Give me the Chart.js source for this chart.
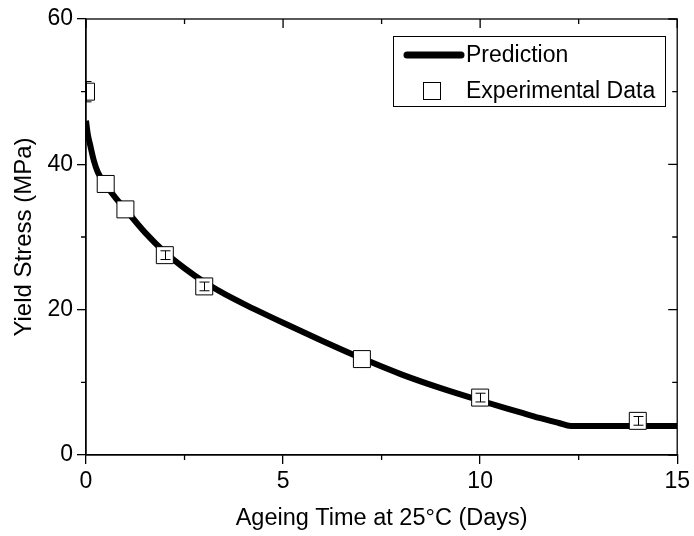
<!DOCTYPE html>
<html>
<head>
<meta charset="utf-8">
<title>Yield stress vs ageing time</title>
<script src="https://cdn.jsdelivr.net/npm/chart.js@4.4.1/dist/chart.umd.min.js"></script>
<style>
  html, body { margin: 0; padding: 0; background: #fff; }
  #wrap { width: 694px; height: 536px; position: relative; }
</style>
</head>
<body>
<div id="wrap"><canvas id="chart"></canvas></div>
<script>
// model curve
const predDays   = [0, 0.05, 0.1, 0.2, 0.3, 0.5, 0.75, 1, 1.5, 2, 2.5, 3, 3.5, 4, 5, 6, 7, 8, 9, 10, 11, 11.5, 12, 12.3, 13, 14, 15];
const predStress = [46, 44, 42.8, 40.5, 38.9, 37.2, 35.4, 33.8, 30.6, 27.9, 25.7, 23.8, 22.2, 20.8, 18.2, 15.7, 13.3, 11.1, 9.2, 7.5, 5.9, 5.1, 4.4, 4.0, 4.0, 4.0, 4.0];

// measured points + error
const expDays   = [0, 0.5, 1, 2, 3, 7, 10, 14];
const expStress = [50, 37.3, 33.8, 27.5, 23.2, 13.2, 7.9, 4.7];
const expError  = [1.4, 0, 0, 0.6, 0.6, 0, 0.6, 0.6];

const xTicks = [0, 5, 10, 15];
const yTicks = [0, 20, 40, 60];
const xMinor = [2.5, 7.5, 12.5];
const yMinor = [10, 30, 50];

const FONT = "'Liberation Sans', Arial, Helvetica, sans-serif";

const boxPlugin = {
  id: "box",
  afterDatasetsDraw(chart) {
    const { ctx, chartArea: a, scales: { x, y } } = chart;
    ctx.save();
    ctx.beginPath();
    ctx.rect(a.left, a.top, a.right - a.left, a.bottom - a.top);
    ctx.clip();
    ctx.strokeStyle = "#000";
    ctx.lineWidth = 1;
    expDays.forEach((d, i) => {
      const e = expError[i];
      if (!e) return;
      const px = Math.round(x.getPixelForValue(d)) + 0.5;
      const y1 = y.getPixelForValue(expStress[i] + e);
      const y2 = y.getPixelForValue(expStress[i] - e);
      ctx.beginPath();
      ctx.moveTo(px, y1); ctx.lineTo(px, y2);
      ctx.moveTo(px - 5, y1); ctx.lineTo(px + 5, y1);
      ctx.moveTo(px - 5, y2); ctx.lineTo(px + 5, y2);
      ctx.stroke();
    });
    ctx.restore();
  },
  afterDraw(chart) {
    const { ctx, chartArea: a, scales: { x, y } } = chart;
    ctx.save();
    ctx.strokeStyle = "#000";
    ctx.lineWidth = 1.3;
    ctx.strokeRect(a.left, a.top, a.right - a.left, a.bottom - a.top);

    ctx.beginPath();
    // minor ticks outside
    xMinor.forEach((v) => {
      const px = x.getPixelForValue(v);
      ctx.moveTo(px, a.bottom); ctx.lineTo(px, a.bottom + 5);
      ctx.moveTo(px, a.top); ctx.lineTo(px, a.top + 5);
    });
    yMinor.forEach((v) => {
      const py = y.getPixelForValue(v);
      ctx.moveTo(a.left, py); ctx.lineTo(a.left - 5, py);
      ctx.moveTo(a.right, py); ctx.lineTo(a.right - 5, py);
    });
    // mirrored major ticks, pointing in
    xTicks.forEach((v) => {
      const px = x.getPixelForValue(v);
      ctx.moveTo(px, a.top); ctx.lineTo(px, a.top + 9);
    });
    yTicks.forEach((v) => {
      const py = y.getPixelForValue(v);
      ctx.moveTo(a.right, py); ctx.lineTo(a.right - 9, py);
    });
    ctx.stroke();

    // legend
    ctx.lineWidth = 1;
    ctx.strokeRect(393.5, 36.5, 272, 70);
    ctx.lineWidth = 7;
    ctx.lineCap = "round";
    ctx.beginPath();
    ctx.moveTo(407, 55); ctx.lineTo(461, 55);
    ctx.stroke();
    ctx.lineCap = "butt";
    ctx.lineWidth = 1;
    ctx.fillStyle = "#fff";
    ctx.fillRect(423.5, 82.5, 17, 17);
    ctx.strokeRect(423.5, 82.5, 17, 17);
    ctx.fillStyle = "#000";
    ctx.font = "23px " + FONT;
    ctx.textBaseline = "middle";
    ctx.textAlign = "left";
    ctx.fillText("Prediction", 466, 56);
    ctx.fillText("Experimental Data", 466, 92);
    ctx.restore();
  }
};

const ctx = document.getElementById("chart").getContext("2d");

new Chart(ctx, {
  type: "scatter",
  data: {
    datasets: [
      {
        label: "Experimental Data",
        data: expDays.map((d, i) => ({ x: d, y: expStress[i] })),
        pointStyle: "rect",
        pointRadius: 12,
        pointBackgroundColor: "#fff",
        pointBorderColor: "#000",
        pointBorderWidth: 1,
        showLine: false,
        clip: 0,
        order: 0
      },
      {
        label: "Prediction",
        data: predDays.map((d, i) => ({ x: d, y: predStress[i] })),
        showLine: true,
        borderColor: "#000",
        borderWidth: 6,
        pointRadius: 0,
        cubicInterpolationMode: "monotone",
        fill: false,
        clip: 0,
        order: 1
      }
    ]
  },
  options: {
    responsive: true,
    maintainAspectRatio: false,
    animation: false,
    layout: { padding: { left: 0, right: 13, top: 19, bottom: 0 } },
    plugins: {
      legend: { display: false },
      tooltip: { enabled: false }
    },
    scales: {
      x: {
        type: "linear",
        min: 0,
        max: 15,
        afterBuildTicks: (s) => { s.ticks = xTicks.map((v) => ({ value: v })); },
        afterFit: (s) => { s.height = 81; },
        ticks: { color: "#000", padding: 4, font: { family: FONT, size: 23 } },
        grid: { drawOnChartArea: false, drawTicks: true, tickLength: 9, color: "#000", lineWidth: 1.3 },
        border: { display: true, color: "#000", width: 1.3 },
        title: {
          display: true,
          text: "Ageing Time at 25°C (Days)",
          color: "#000",
          font: { family: FONT, size: 23.5 },
          padding: { top: 0, bottom: 3 }
        }
      },
      y: {
        type: "linear",
        min: 0,
        max: 60,
        afterBuildTicks: (s) => { s.ticks = yTicks.map((v) => ({ value: v })); },
        afterFit: (s) => { s.width = 86; },
        ticks: { color: "#000", padding: 4, font: { family: FONT, size: 23 } },
        grid: { drawOnChartArea: false, drawTicks: true, tickLength: 9, color: "#000", lineWidth: 1.3 },
        border: { display: true, color: "#000", width: 1.3 },
        title: {
          display: true,
          text: "Yield Stress (MPa)",
          color: "#000",
          font: { family: FONT, size: 24 },
          padding: { top: 10, bottom: 0 }
        }
      }
    }
  },
  plugins: [boxPlugin]
});
</script>
</body>
</html>
